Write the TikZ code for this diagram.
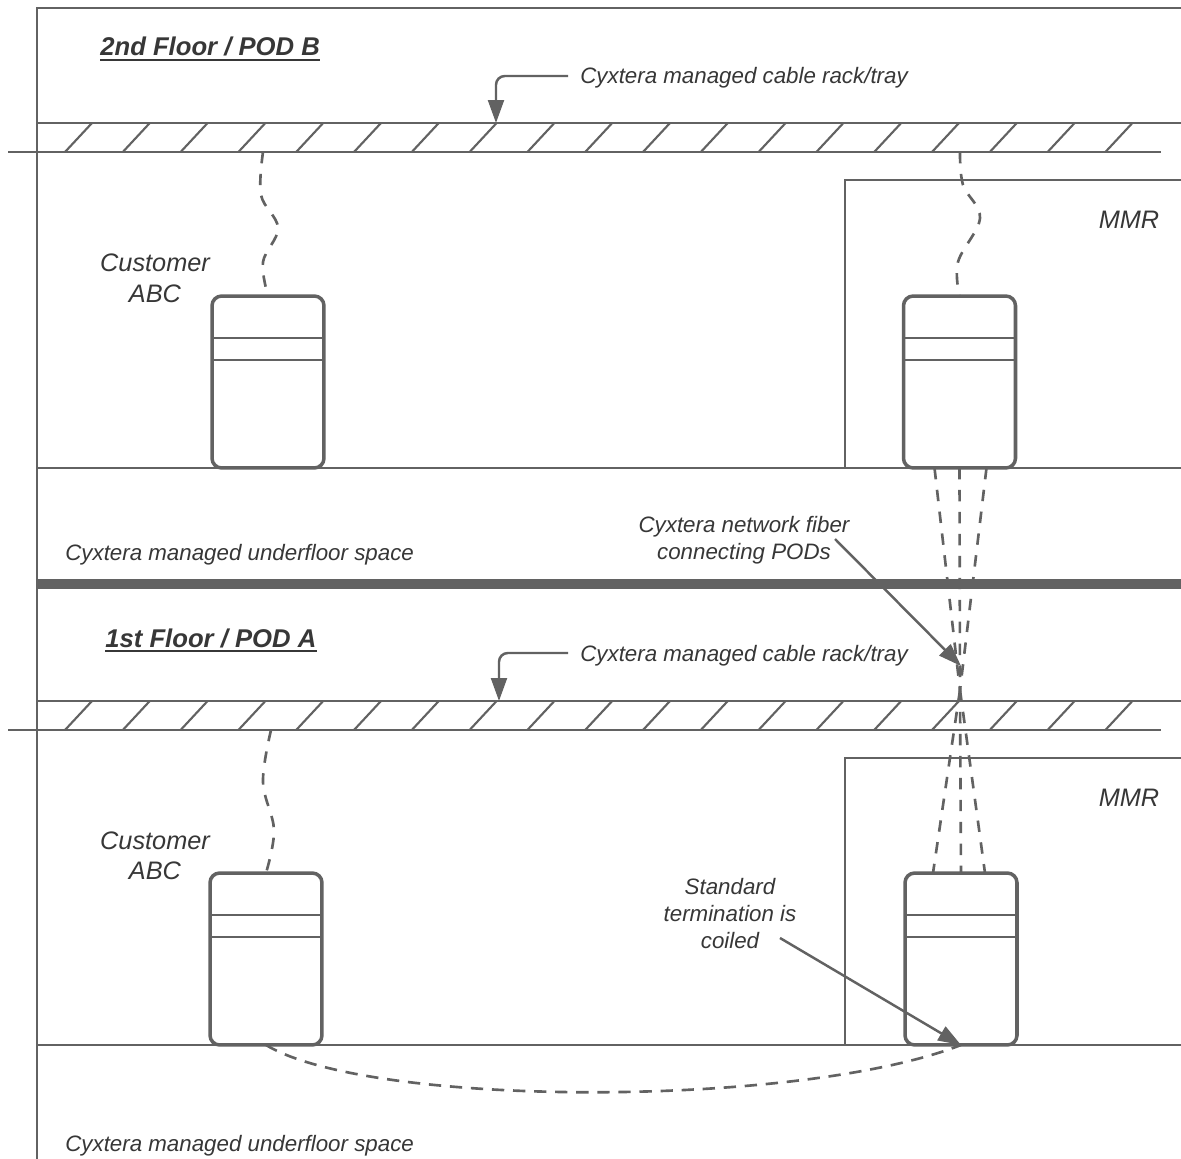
\documentclass[tikz,border=0pt]{standalone}
\usepackage{fontspec}
\setmainfont{Liberation Sans}
\usetikzlibrary{arrows.meta}
\definecolor{linecol}{RGB}{98,98,98}
\definecolor{txtcol}{RGB}{55,55,55}
\begin{document}
\begin{tikzpicture}[x=0.02cm,y=-0.02cm,
  wall/.style={draw=linecol, line width=1.2pt},
  hatchline/.style={draw=linecol, line width=1.2pt},
  cab/.style={draw=linecol, line width=2pt, rounded corners=5.5pt, minimum width=2.24cm, minimum height=3.44cm, inner sep=0pt, outer sep=0pt, fill=white},
  shelf/.style={draw=linecol, line width=1.1pt},
  wire/.style={draw=linecol, line width=1.5pt, dash pattern=on 6.5pt off 6pt},
  fiber/.style={draw=linecol, line width=1.5pt, dash pattern=on 6.5pt off 6pt},
  arr/.style={draw=linecol, line width=1.4pt, -{Triangle[length=13pt,width=9pt]}},
  lbl/.style={text=txtcol, font=\fontsize{12.7}{15}\selectfont\itshape, inner sep=0pt},
  biglbl/.style={text=txtcol, font=\fontsize{14.4}{17}\selectfont\itshape, inner sep=0pt},
  headlbl/.style={text=txtcol, font=\fontsize{14.6}{17}\selectfont\bfseries\itshape, inner sep=0pt},
]
\useasboundingbox (0,0) rectangle (1181,1159);
\fill[white] (0,0) rectangle (1181,1159);

% building outline
\draw[wall] (1181,8) -- (37,8) -- (37,1159);
% upper tray
\draw[wall] (37,123) -- (1181,123);
\draw[wall] (8,152) -- (1161,152);
\foreach \i in {0,...,18} \draw[hatchline] ({65+57.8*\i},152) -- ({92+57.8*\i},123);
% upper floor line and slab
\draw[wall] (37,468) -- (1181,468);
\fill[linecol] (37,579) rectangle (1181,589);
% lower tray
\draw[wall] (37,701) -- (1181,701);
\draw[wall] (8,730) -- (1161,730);
\foreach \i in {0,...,18} \draw[hatchline] ({65+57.8*\i},730) -- ({92+57.8*\i},701);
% lower floor line
\draw[wall] (37,1045) -- (1181,1045);
% MMR rooms
\draw[wall] (845,468) -- (845,180) -- (1181,180);
\draw[wall] (845,1045) -- (845,758) -- (1181,758);

% cabinets
\node[cab] (c1) at (268,382) {};
\node[cab] (c2) at (959.5,382) {};
\node[cab] (c3) at (266,959) {};
\node[cab] (c4) at (961,959) {};
\foreach \c/\ya/\yb in {c1/338/360, c2/338/360, c3/915/937, c4/915/937} {
  \draw[shelf] (\c.west |- 0,\ya) -- (\c.east |- 0,\ya);
  \draw[shelf] (\c.west |- 0,\yb) -- (\c.east |- 0,\yb);
}

% cable drops from trays
\coordinate (t1) at (263,152);
\coordinate (t2) at (960,152);
\coordinate (t3) at (271,730);
\draw[wire] plot[smooth, tension=0.6] coordinates {(t1) (261,195) (278,228) (263,262) (c1.north)};
\draw[wire] plot[smooth, tension=0.6] coordinates {(t2) (963,185) (980,218) (958,262) (c2.north)};
\draw[wire] plot[smooth, tension=0.6] coordinates {(t3) (263,782) (274,830) (c3.north)};

% fiber bundle between PODs
\coordinate (conv) at (960,690);
\foreach \dx in {-0.5cm,0cm,0.54cm} \draw[fiber] ([xshift=\dx]c2.south) -- (conv);
\foreach \dx in {-0.56cm,0cm,0.48cm} \draw[fiber] (conv) -- ([xshift=\dx]c4.north);

% coiled termination
\draw[wire, dash pattern=on 7pt off 5pt] (c3.south) .. controls (370,1108) and (800,1108) .. (c4.south);

% labels
\node[headlbl, anchor=base west] (hB) at (100,56) {2nd Floor / POD B};
\draw[txtcol, line width=1pt] ([yshift=-2.2pt]hB.base west) -- ([yshift=-2.2pt]hB.base east);
\node[headlbl, anchor=base west] (hA) at (105,647) {1st Floor / POD A};
\draw[txtcol, line width=1pt] ([yshift=-2.2pt]hA.base west) -- ([yshift=-2.2pt]hA.base east);

\node[lbl, anchor=base west] (rack1) at (580,84) {Cyxtera managed cable rack/tray};
\node[lbl, anchor=base west] (rack2) at (580,661) {Cyxtera managed cable rack/tray};
\node[lbl, anchor=base west] (uf1) at (65,560) {Cyxtera managed underfloor space};
\node[lbl, anchor=base west] (uf2) at (65,1151) {Cyxtera managed underfloor space};
\node[biglbl, anchor=base] (mmr1) at (1129,229) {MMR};
\node[biglbl, anchor=base] (mmr2) at (1129,806) {MMR};
\node[biglbl, anchor=base] (cu1a) at (155,272) {Customer};
\node[biglbl, anchor=base] (cu1b) at (155,302) {ABC};
\node[biglbl, anchor=base] (cu2a) at (155,849) {Customer};
\node[biglbl, anchor=base] (cu2b) at (155,879) {ABC};
\node[lbl, anchor=base] (fib1) at (744,532) {Cyxtera network fiber};
\node[lbl, anchor=base] (fib2) at (744,559) {connecting PODs};
\node[lbl, anchor=base] (st1) at (730,894) {Standard};
\node[lbl, anchor=base] (st2) at (730,921) {termination is};
\node[lbl, anchor=base] (st3) at (730,948) {coiled};

% arrows
\coordinate (r1s) at (568,76);
\coordinate (r1t) at (496,123);
\coordinate (r2s) at (568,653);
\coordinate (r2t) at (499,701);
\draw[arr, rounded corners=5pt] (r1s) -| (r1t);
\draw[arr, rounded corners=5pt] (r2s) -| (r2t);
\coordinate (fibs) at (835,539);
\coordinate (fibt) at (961,666);
\draw[arr] (fibs) -- (fibt);
\coordinate (sts) at (780,938);
\draw[arr] (sts) -- (c4.south);
\end{tikzpicture}
\end{document}
